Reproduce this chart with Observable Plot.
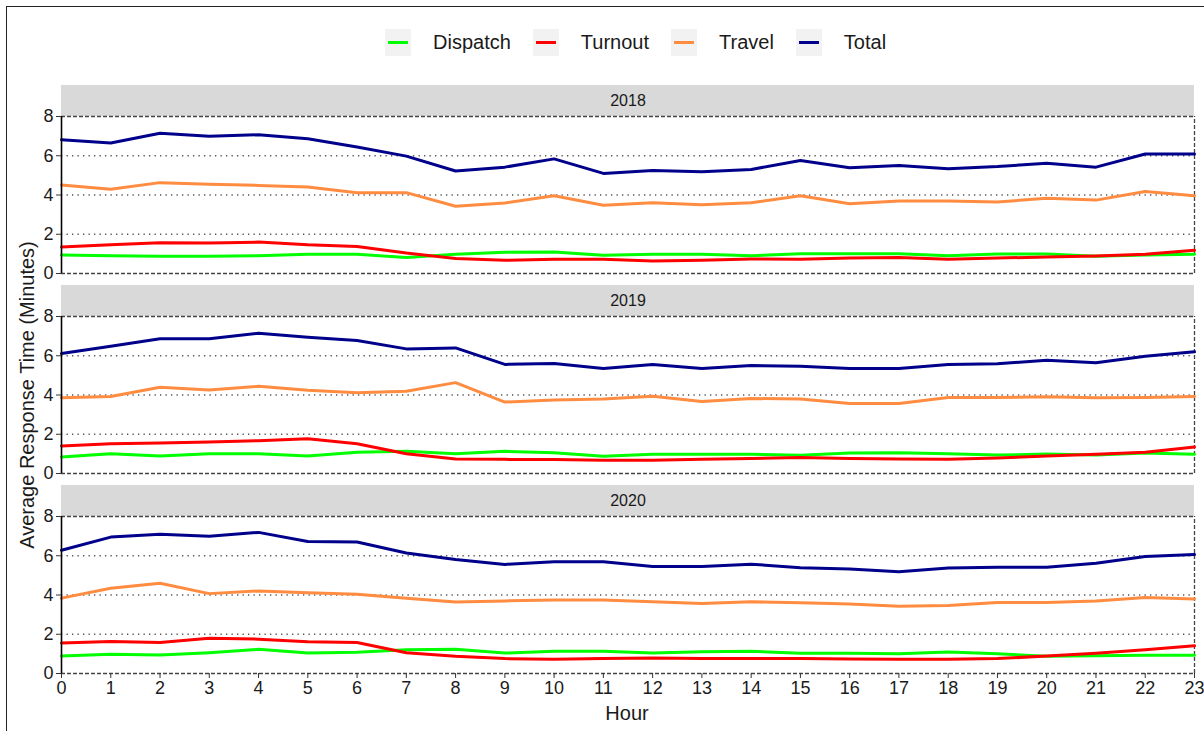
<!DOCTYPE html>
<html>
<head>
<meta charset="utf-8">
<script src="https://cdn.jsdelivr.net/npm/d3@7"></script>
<script src="https://cdn.jsdelivr.net/npm/@observablehq/plot@0.6"></script>
<style>
  html, body { margin: 0; padding: 0; background: #fff; }
  #wrap { position: relative; width: 1204px; height: 731px; overflow: hidden; font-family: "Liberation Sans", Arial, sans-serif; }
  #frame { position: absolute; left: 6px; top: 6px; width: 1210px; height: 740px; border-left: 1.6px solid #222; border-top: 1.6px solid #222; box-sizing: border-box; }
  #legend { position: absolute; left: 385px; top: 28px; height: 28px; display: flex; align-items: center; gap: 22px; font-size: 20px; color: #1a1a1a; }
  .key { width: 26px; height: 27px; background: #f2f2f2; position: relative; }
  .key span { position: absolute; left: 3px; right: 3px; top: 12px; height: 3px; }
  #ylabel { position: absolute; left: 27px; top: 395px; transform: translate(-50%, -50%) rotate(-90deg); font-size: 20px; color: #1a1a1a; white-space: nowrap; }
  #xlabel { position: absolute; left: 627px; top: 713px; transform: translate(-50%, -50%); font-size: 20px; color: #1a1a1a; white-space: nowrap; }
  #chart { position: absolute; left: 0; top: 0; }
</style>
</head>
<body>
<div id="wrap">
  <div id="chart"></div>
  <div id="frame"></div>
  <div id="legend"></div>
  <div id="ylabel">Average Response Time (Minutes)</div>
  <div id="xlabel">Hour</div>
</div>
<script>
const hours = d3.range(0, 24);
const years = [2018, 2019, 2020];
const seriesNames = ["Dispatch", "Turnout", "Travel", "Total"];
const seriesColors = ["#00FF00", "#FF0000", "#FF8C40", "#00008B"];
const yTicks = [0, 2, 4, 6, 8];

const dispatch2018 = [0.94,0.91,0.88,0.88,0.91,0.98,0.98,0.81,0.98,1.08,1.09,0.93,0.98,0.98,0.91,1.01,1.01,1.01,0.91,0.99,0.99,0.88,0.94,0.98];
const turnout2018  = [1.35,1.46,1.57,1.55,1.60,1.46,1.38,1.04,0.76,0.67,0.72,0.72,0.64,0.67,0.74,0.72,0.79,0.81,0.72,0.79,0.84,0.89,0.98,1.18];
const travel2018   = [4.51,4.29,4.63,4.55,4.49,4.41,4.12,4.12,3.43,3.59,3.96,3.48,3.60,3.50,3.60,3.96,3.55,3.70,3.70,3.64,3.84,3.74,4.18,3.96];
const total2018    = [6.82,6.65,7.15,6.99,7.07,6.87,6.45,5.98,5.22,5.42,5.84,5.10,5.25,5.19,5.30,5.76,5.39,5.50,5.34,5.45,5.62,5.42,6.09,6.09];

const dispatch2019 = [0.84,1.01,0.89,1.01,1.01,0.89,1.08,1.14,1.01,1.13,1.06,0.88,0.98,0.98,0.98,0.93,1.04,1.06,1.01,0.94,0.99,0.94,1.04,0.98];
const turnout2019  = [1.40,1.52,1.55,1.60,1.67,1.77,1.52,1.01,0.74,0.72,0.71,0.67,0.67,0.72,0.76,0.81,0.76,0.74,0.72,0.79,0.89,0.98,1.08,1.35];
const travel2019   = [3.86,3.92,4.39,4.26,4.44,4.24,4.12,4.19,4.63,3.64,3.75,3.80,3.94,3.67,3.82,3.80,3.57,3.57,3.87,3.87,3.91,3.86,3.87,3.92];
const total2019    = [6.11,6.48,6.87,6.87,7.15,6.94,6.78,6.35,6.40,5.56,5.61,5.35,5.56,5.35,5.50,5.47,5.35,5.35,5.56,5.59,5.77,5.64,5.98,6.20];

const dispatch2020 = [0.89,0.98,0.94,1.06,1.23,1.04,1.08,1.21,1.23,1.04,1.14,1.14,1.04,1.11,1.13,1.03,1.03,1.01,1.09,1.01,0.88,0.91,0.93,0.93];
const turnout2020  = [1.55,1.63,1.58,1.80,1.75,1.62,1.58,1.06,0.88,0.76,0.72,0.76,0.79,0.76,0.76,0.76,0.74,0.72,0.72,0.76,0.89,1.03,1.21,1.41];
const travel2020   = [3.84,4.34,4.60,4.07,4.21,4.11,4.04,3.84,3.64,3.70,3.75,3.74,3.65,3.57,3.65,3.60,3.54,3.43,3.47,3.62,3.62,3.70,3.87,3.79];
const total2020    = [6.28,6.95,7.10,6.99,7.19,6.73,6.70,6.14,5.81,5.56,5.69,5.69,5.45,5.45,5.57,5.39,5.32,5.19,5.37,5.42,5.42,5.62,5.96,6.06];

const table = {
  2018: [dispatch2018, turnout2018, travel2018, total2018],
  2019: [dispatch2019, turnout2019, travel2019, total2019],
  2020: [dispatch2020, turnout2020, travel2020, total2020]
};
const data = [];
for (const yr of years) {
  seriesNames.forEach((s, i) => {
    table[yr][i].forEach((v, h) => data.push({year: yr, series: s, hour: hours[h], value: v}));
  });
}

// panel: 31px strip over 157px plot for 8 units
const yTop = 8 * 188 / 157;

const chart = Plot.plot({
  width: 1204,
  height: 731,
  marginLeft: 61,
  marginRight: 10,
  marginTop: 85,
  marginBottom: 58,
  style: {fontFamily: "Liberation Sans, Arial, sans-serif", fontSize: "18px", background: "transparent", color: "#1a1a1a"},
  x: {domain: [0, 23]},
  y: {domain: [0, yTop]},
  fy: {domain: years, paddingInner: 12 / 200, paddingOuter: 0, axis: null},
  color: {domain: seriesNames, range: seriesColors},
  marks: [
    Plot.rect(years, {fy: d => d, x1: 0, x2: 23, y1: 8, y2: yTop, fill: "#d9d9d9"}),
    Plot.text(years, {fy: d => d, x: 11.5, y: (8 + yTop) / 2, text: d => String(d), fontSize: 16, fill: "#1a1a1a"}),
    Plot.ruleY([2, 4, 6], {stroke: "#555", strokeWidth: 1.3, strokeDasharray: "1.3,4.2"}),
    Plot.ruleY([0, 8], {stroke: "#444", strokeWidth: 1.3, strokeDasharray: "4,2"}),
    Plot.ruleX([23], {y1: 0, y2: 8, stroke: "#444", strokeWidth: 1.3, strokeDasharray: "4,2"}),
    Plot.line(data, {x: "hour", y: "value", z: "series", stroke: "series", fy: "year", strokeWidth: 3, curve: "linear"}),
    Plot.ruleX([0], {y1: 0, y2: 8, stroke: "#000", strokeWidth: 1.6}),
    Plot.axisY({ticks: yTicks, tickSize: 5, tickPadding: 3, label: null, fontSize: 18, stroke: "#333"}),
    Plot.axisX({ticks: hours, tickFormat: d => String(d), tickSize: 5, tickPadding: 3, fontSize: 18, stroke: "#333", label: null})
  ]
});
document.getElementById("chart").appendChild(chart);

const legend = document.getElementById("legend");
seriesNames.forEach((s, i) => {
  const k = document.createElement("div");
  k.className = "key";
  const ln = document.createElement("span");
  ln.style.background = seriesColors[i];
  k.appendChild(ln);
  const t = document.createElement("div");
  t.textContent = s;
  legend.appendChild(k);
  legend.appendChild(t);
});
</script>
</body>
</html>
